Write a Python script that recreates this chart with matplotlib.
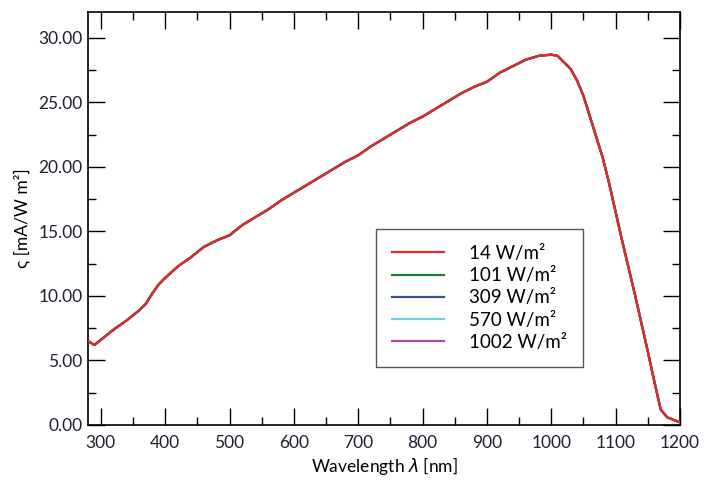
import matplotlib
matplotlib.use("Agg")
import matplotlib.pyplot as plt
from matplotlib.ticker import MultipleLocator, FormatStrFormatter

plt.rcParams["font.family"] = ["Lato", "DejaVu Sans"]
plt.rcParams["mathtext.fontset"] = "dejavusans"

wavelength = [280, 290, 300, 320, 340, 360, 370, 380, 390, 400, 420, 440, 460,
              480, 500, 520, 540, 560, 580, 600, 620, 640, 660, 680, 700, 720,
              740, 760, 780, 800, 820, 840, 860, 880, 900, 920, 940, 960, 980,
              1000, 1010, 1020, 1030, 1040, 1050, 1060, 1070, 1080, 1090, 1100,
              1110, 1120, 1130, 1140, 1150, 1160, 1170, 1180, 1190, 1200]
response = [6.5, 6.2, 6.6, 7.4, 8.1, 8.9, 9.4, 10.2, 10.9, 11.4, 12.3, 13.0, 13.8,
            14.3, 14.7, 15.5, 16.1, 16.7, 17.4, 18.0, 18.6, 19.2, 19.8, 20.4,
            20.9, 21.6, 22.2, 22.8, 23.4, 23.9, 24.5, 25.1, 25.7, 26.2, 26.6,
            27.3, 27.8, 28.3, 28.6, 28.7, 28.6, 28.1, 27.6, 26.7, 25.5, 23.9,
            22.3, 20.7, 18.7, 16.5, 14.3, 12.2, 10.1, 7.9, 5.7, 3.4, 1.2, 0.6,
            0.4, 0.2]

labels = ["14 W/m²", "101 W/m²", "309 W/m²", "570 W/m²", "1002 W/m²"]
colors = ["#e8262a", "#1a7f3c", "#3a4f9a", "#6fd0e0", "#b04aa0"]

fig = plt.figure(figsize=(7.16, 4.82), dpi=100)
ax = fig.add_axes([0.1229, 0.1183, 0.8268, 0.8567])

# all irradiances give (almost) the same curve; red on top
for i, (lab, col) in enumerate(zip(labels, colors)):
    ax.plot(wavelength, response, color=col, lw=1.6, label=lab,
            zorder=10 - i)

ax.set_xlim(280, 1200)
ax.set_ylim(0, 32)
ax.xaxis.set_major_locator(MultipleLocator(100))
ax.xaxis.set_minor_locator(MultipleLocator(50))
ax.yaxis.set_major_locator(MultipleLocator(5))
ax.yaxis.set_minor_locator(MultipleLocator(2.5))
ax.yaxis.set_major_formatter(FormatStrFormatter("%.2f"))

ax.tick_params(which="both", direction="in", top=True, right=True,
               labelsize=12.5, labelcolor="#1e2230", width=1)
ax.tick_params(which="major", length=12, pad=4)
ax.tick_params(axis="x", which="major", pad=7)
ax.tick_params(which="minor", length=6)
for s in ax.spines.values():
    s.set_linewidth(1.2)

ax.set_xlabel(r"Wavelength $\lambda$ [nm]", fontsize=12.5, labelpad=3)
ax.set_ylabel("ς [mA/W m²]", fontsize=12.5, labelpad=6)

leg = ax.legend(loc="upper left", bbox_to_anchor=(0.4865, 0.4746),
                fontsize=13.5, frameon=True, fancybox=False, framealpha=1,
                edgecolor="#555555", handlelength=2.8, handletextpad=1.3,
                labelspacing=0.28, borderpad=0.85, borderaxespad=0)
leg.get_frame().set_linewidth(1.0)

fig.savefig("out.png", dpi=100)
